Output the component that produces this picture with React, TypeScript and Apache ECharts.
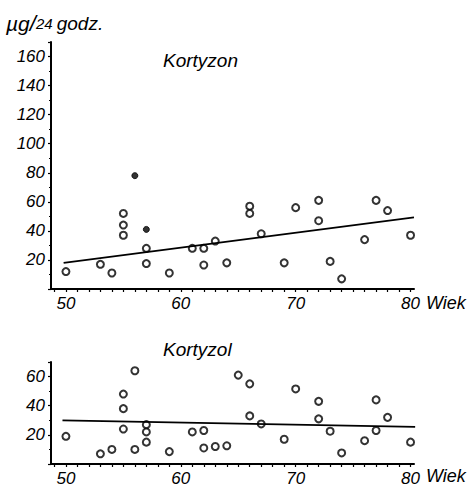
import React, { useEffect, useRef } from "react";
import * as echarts from "echarts";

// Kortyzon (top) – hollow points [age, µg/24h]
const kortyzonHollow: number[][] = [
  [50, 12], [53, 17], [54, 11], [55, 52], [55, 44], [55, 37], [57, 28], [57, 17.5],
  [59, 11], [61, 28], [62, 28], [62, 16.5], [63, 33], [64, 18], [66, 57], [66, 52],
  [67, 38], [69, 18], [70, 56], [72, 61], [72, 47], [73, 19], [74, 7], [76, 34],
  [77, 61], [78, 54], [80, 37],
];
const kortyzonFilled: number[][] = [[56, 78], [57, 41]];
const kortyzonTrend: number[][] = [[49.8, 18], [80.3, 49.3]];

// Kortyzol (bottom)
const kortyzolPoints: number[][] = [
  [50, 19], [53, 7], [54, 10], [55, 48], [55, 38], [55, 24], [56, 64], [56, 10],
  [57, 27], [57, 22], [57, 15], [59, 8.5], [61, 22], [62, 23], [62, 11], [63, 12],
  [64, 12.5], [65, 61], [66, 55], [66, 33], [67, 27.5], [69, 17], [70, 51.5], [72, 43],
  [72, 31], [73, 22.5], [74, 7.6], [76, 16], [77, 23], [77, 44], [78, 32], [80, 15],
];
const kortyzolTrend: number[][] = [[49.7, 30], [80.4, 25.5]];

const xLabels = [50, 60, 70, 80];
const xTicks = Array.from({ length: 32 }, (_, i) => 49 + i);
const topYLabels = [20, 40, 60, 80, 100, 120, 140, 160];
const botYLabels = [20, 40, 60];

const FONT = "'Liberation Sans', Arial, sans-serif";

export default function App() {
  const ref = useRef<HTMLDivElement>(null);
  useEffect(() => {
    if (!ref.current) return;
    const chart = echarts.init(ref.current, undefined, { renderer: "svg" });
    const axisLine = { lineStyle: { color: "#000", width: 2 } };
    const labelStyle = { color: "#000", fontFamily: FONT, fontStyle: "italic" as const, fontSize: 17 };
    const xAxisCommon = (gridIndex: number) => ({
      type: "value" as const,
      gridIndex,
      min: 48.7,
      max: 80.3,
      axisLine,
      splitLine: { show: false },
      axisTick: { show: true, inside: false, length: 3, customValues: xTicks, lineStyle: { color: "#000", width: 1.2 } },
      axisLabel: { ...labelStyle, customValues: xLabels, margin: 6 },
    });
    const yAxisCommon = (gridIndex: number, max: number, labels: number[]) => ({
      type: "value" as const,
      gridIndex,
      min: 0,
      max,
      interval: 20,
      axisLine: { show: true, ...axisLine },
      splitLine: { show: false },
      axisTick: { show: true, length: 3, lineStyle: { color: "#000", width: 1.2 } },
      minorTick: { show: true, splitNumber: 2, length: 2, lineStyle: { color: "#000", width: 1 } },
      minorSplitLine: { show: false },
      axisLabel: { ...labelStyle, customValues: labels, margin: 6 },
    });
    const circle = {
      type: "scatter" as const,
      symbol: "circle",
      symbolSize: 7,
      itemStyle: { color: "#fff", borderColor: "#000", borderWidth: 2 },
    };
    const textFont = (size: number) => `italic ${size}px ${FONT}`;
    chart.setOption({
      animation: false,
      backgroundColor: "#fff",
      grid: [
        { left: 51, right: 54, top: 42, bottom: 199 },
        { left: 51, right: 54, top: 362, bottom: 24 },
      ],
      xAxis: [xAxisCommon(0), xAxisCommon(1)],
      yAxis: [yAxisCommon(0, 170, topYLabels), yAxisCommon(1, 70, botYLabels)],
      series: [
        { ...circle, xAxisIndex: 0, yAxisIndex: 0, data: kortyzonHollow },
        { ...circle, xAxisIndex: 0, yAxisIndex: 0, data: kortyzonFilled, itemStyle: { color: "#000", borderColor: "#000", borderWidth: 1 }, symbolSize: 6 },
        { type: "line", xAxisIndex: 0, yAxisIndex: 0, data: kortyzonTrend, symbol: "none", lineStyle: { color: "#000", width: 1.8 } },
        { ...circle, xAxisIndex: 1, yAxisIndex: 1, data: kortyzolPoints },
        { type: "line", xAxisIndex: 1, yAxisIndex: 1, data: kortyzolTrend, symbol: "none", lineStyle: { color: "#000", width: 1.8 } },
      ],
      graphic: [
        {
          type: "text", left: 6, top: 12,
          style: {
            text: "{a|µg}{b|/}{c|24 }{d|godz.}",
            fill: "#000",
            rich: {
              a: { font: textFont(21), fill: "#000" },
              b: { font: textFont(22), fill: "#000" },
              c: { font: textFont(15), fill: "#000", verticalAlign: "middle" },
              d: { font: textFont(19), fill: "#000" },
            },
          },
        },
        { type: "text", left: 163, top: 51, style: { text: "Kortyzon", fill: "#000", font: textFont(19) } },
        { type: "text", left: 163, top: 340, style: { text: "Kortyzol", fill: "#000", font: textFont(19) } },
        { type: "text", left: 426, top: 294, style: { text: "Wiek", fill: "#000", font: textFont(18) } },
        { type: "text", left: 426, top: 467, style: { text: "Wiek", fill: "#000", font: textFont(18) } },
      ],
    });
    return () => chart.dispose();
  }, []);
  return (
    <div
      ref={ref}
      style={{ position: "fixed", left: 0, top: 0, width: 468, height: 488, background: "#fff" }}
    />
  );
}
